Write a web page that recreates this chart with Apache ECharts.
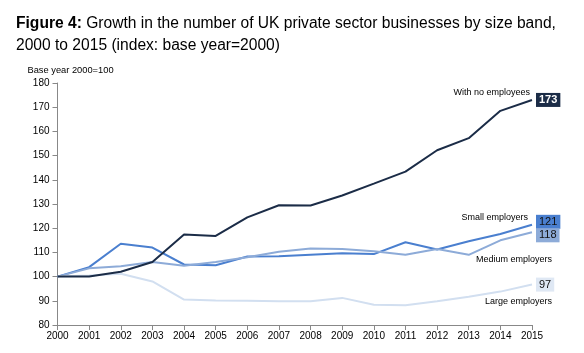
<!DOCTYPE html>
<html>
<head>
<meta charset="utf-8">
<script src="https://cdn.jsdelivr.net/npm/echarts@6/dist/echarts.min.js"></script>
<style>
  html, body { margin: 0; padding: 0; background: #fff; }
  #chart { width: 584px; height: 353px; }
</style>
</head>
<body>
<div id="chart"></div>
<script>
const years = ['2000', '2001', '2002', '2003', '2004', '2005', '2006', '2007',
    '2008', '2009', '2010', '2011', '2012', '2013', '2014', '2015']
const yTicks = [80, 180, 10] // min, max, step

const noEmployees = [100, 100, 102, 106, 117.4, 116.8, 124.5, 129.5, 129.4, 133.5, 138.4, 143.4, 152.2, 157.2, 168.5, 173]
const smallEmp = [100, 103.9, 113.6, 112, 105, 104.7, 108.3, 108.4, 109, 109.6, 109.3, 114.2, 111.2, 114.6, 117.6, 121.4]
const mediumEmp = [100, 103.4, 104.3, 106, 104.5, 106, 108, 110.3, 111.6, 111.4, 110.5, 109, 111.4, 109, 115, 118.3]
const largeEmp = [100, 100.5, 101.2, 98, 90.5, 90.1, 90, 89.8, 89.8, 91.2, 88.4, 88.2, 89.8, 91.7, 93.8, 96.7]

const seriesInfo = [
    { name: 'With no employees', data: noEmployees, color: '#1b2c47', box: '#1b2c47', boxText: '#fff', bold: true, offY: 0,
      nameDx: -2, nameDy: -7 },
    { name: 'Small employers', data: smallEmp, color: '#4a7fcf', box: '#4a7fcf', boxText: '#111', bold: false, offY: -3,
      nameDx: -4, nameDy: -7 },
    { name: 'Medium employers', data: mediumEmp, color: '#8dabd8', box: '#8dabd8', boxText: '#111', bold: false, offY: 3,
      nameDx: 20, nameDy: 27 },
    { name: 'Large employers', data: largeEmp, color: '#d2dff0', box: '#dfe8f4', boxText: '#111', bold: false, offY: 0,
      nameDx: 20, nameDy: 17 }
]

const chart = echarts.init(document.getElementById('chart'))

const option = {
    animation: false,
    textStyle: { fontFamily: 'Liberation Sans, Arial, sans-serif' },
    grid: { left: 57.5, right: 52, top: 83, bottom: 28 },
    title: {
        text: '{b|Figure 4:} Growth in the number of UK private sector businesses by size band,\n2000 to 2015 (index: base year=2000)',
        left: 16,
        top: 13,
        padding: 0,
        textStyle: {
            fontSize: 15.6,
            fontWeight: 'normal',
            color: '#000',
            lineHeight: 22,
            rich: {
                b: { fontSize: 15.6, fontWeight: 'bold', color: '#000' }
            }
        }
    },
    xAxis: {
        type: 'category',
        data: years,
        boundaryGap: false,
        axisLine: { lineStyle: { color: '#888' } },
        axisTick: { show: true, alignWithLabel: true, lineStyle: { color: '#888' } },
        axisLabel: { color: '#000', fontSize: 10, margin: 6, interval: 0 }
    },
    yAxis: {
        type: 'value',
        min: yTicks[0],
        max: yTicks[1],
        interval: yTicks[2],
        name: 'Base year 2000=100',
        nameLocation: 'end',
        nameGap: 8,
        nameTextStyle: { color: '#000', fontSize: 9.3, align: 'left', padding: [0, 0, 0, -30] },
        axisLine: { show: true, lineStyle: { color: '#888' } },
        axisTick: { show: true, lineStyle: { color: '#888' } },
        splitLine: { show: false },
        axisLabel: { color: '#000', fontSize: 10, margin: 8 }
    },
    series: seriesInfo.map(s => ({
        name: s.name,
        type: 'line',
        data: s.data,
        symbol: 'none',
        lineStyle: { color: s.color, width: 2 },
        itemStyle: { color: s.color },
        z: s.name === 'With no employees' ? 5 : 3,
        endLabel: {
            show: true,
            formatter: p => String(Math.round(p.value)),
            backgroundColor: s.box,
            color: s.boxText,
            fontWeight: s.bold ? 'bold' : 'normal',
            fontSize: 11,
            padding: [2, 3, 1, 3],
            distance: 4,
            offset: [0, s.offY]
        }
    }))
}

chart.setOption(option)

// series names placed relative to the final point of each line
const last = years[years.length - 1]
chart.setOption({
    graphic: seriesInfo.map(s => {
        const pt = chart.convertToPixel({ gridIndex: 0 }, [last, s.data[s.data.length - 1]])
        return {
            type: 'text',
            x: pt[0] + s.nameDx,
            y: pt[1] + s.nameDy,
            style: {
                text: s.name,
                fontSize: 9,
                fill: '#000',
                align: 'right',
                verticalAlign: 'middle',
                fontFamily: 'Liberation Sans, Arial, sans-serif'
            }
        }
    })
})
</script>
</body>
</html>
